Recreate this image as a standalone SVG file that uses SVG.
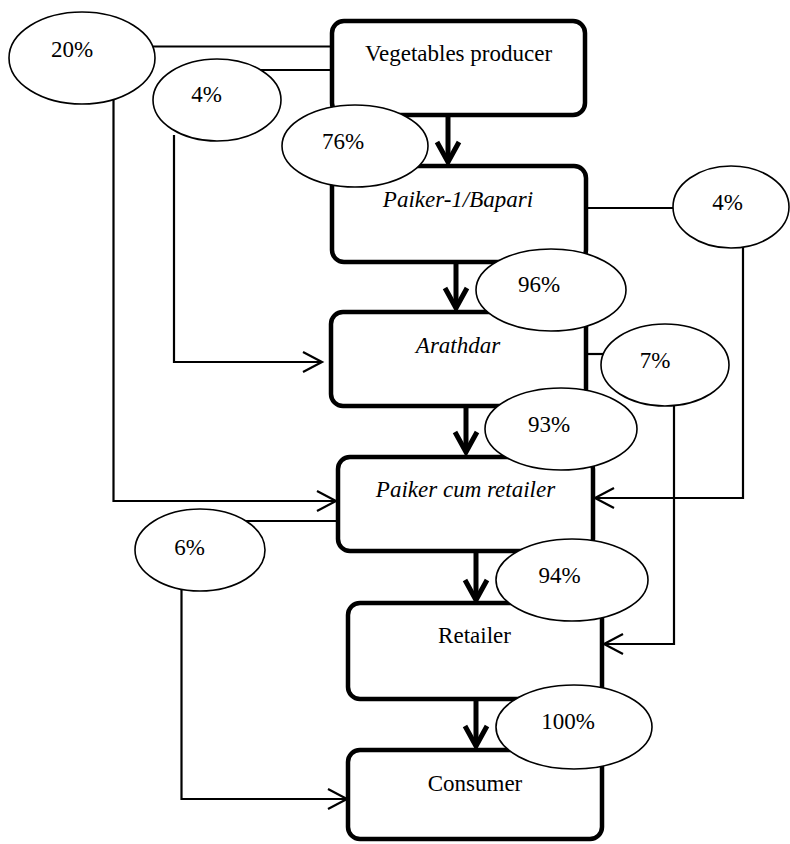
<svg xmlns="http://www.w3.org/2000/svg" width="790" height="844" viewBox="0 0 790 844">
<style>
  .box { fill: #fff; stroke: #000; stroke-width: 4.5; }
  .oval { fill: #fff; stroke: #000; stroke-width: 1.6; }
  .lbl { font-family: "Liberation Serif", "Times New Roman", serif; font-size: 23px; fill: #000; }
  .it { font-style: italic; }
  .thin { fill: none; stroke: #000; stroke-width: 2.2; }
  .thick { fill: none; stroke: #000; stroke-width: 5; }
</style>
<defs>
  <marker id="openThin" markerUnits="userSpaceOnUse" viewBox="-22 -12 24 24" markerWidth="24" markerHeight="24" refX="0" refY="0" orient="auto" overflow="visible">
    <path d="M-19,-10 L0,0 L-19,10" fill="none" stroke="#000" stroke-width="2.2"/>
  </marker>
  <marker id="openThick" markerUnits="userSpaceOnUse" viewBox="-24 -14 28 28" markerWidth="28" markerHeight="28" refX="0" refY="0" orient="auto" overflow="visible">
    <path d="M-20,-11 L0,0 L-20,11" fill="none" stroke="#000" stroke-width="5" stroke-linejoin="miter"/>
  </marker>
</defs>
<rect width="790" height="844" fill="#fff"/>

<g id="connectors">
  <!-- producer side lines -->
  <path class="thin" d="M150,46.5 H332"/>
  <path class="thin" d="M113.5,100 V501 H336" marker-end="url(#openThin)"/>
  <path class="thin" d="M255,70 H332"/>
  <path class="thin" d="M174,135 V362 H322" marker-end="url(#openThin)"/>
  <!-- Paiker-1 to 4% -->
  <path class="thin" d="M586,208 H676"/>
  <path class="thin" d="M743,246 V498 H595" marker-end="url(#openThin)"/>
  <!-- Arathdar to 7% -->
  <path class="thin" d="M586,354 H603"/>
  <path class="thin" d="M674,404 V644 H604" marker-end="url(#openThin)"/>
  <!-- Paiker cum retailer to 6% -->
  <path class="thin" d="M245,521 H338"/>
  <path class="thin" d="M181.5,590 V799 H347" marker-end="url(#openThin)"/>
  <!-- main flow thick arrows -->
  <path class="thick" d="M448,115 V162" marker-end="url(#openThick)"/>
  <path class="thick" d="M456,262 V308" marker-end="url(#openThick)"/>
  <path class="thick" d="M466,406 V452" marker-end="url(#openThick)"/>
  <path class="thick" d="M476,551 V600" marker-end="url(#openThick)"/>
  <path class="thick" d="M476,699 V746" marker-end="url(#openThick)"/>
</g>

<g id="producer">
  <rect class="box" x="332" y="21" width="253" height="94" rx="12"/>
  <text class="lbl" x="458.5" y="61" text-anchor="middle">Vegetables producer</text>
</g>
<g id="paiker1">
  <rect class="box" x="332" y="166" width="254" height="96" rx="12"/>
  <text class="lbl it" x="458" y="207" text-anchor="middle">Paiker-1/Bapari</text>
</g>
<g id="arathdar">
  <rect class="box" x="331" y="312" width="255" height="94" rx="12"/>
  <text class="lbl it" x="458" y="353" text-anchor="middle">Arathdar</text>
</g>
<g id="paiker-cum-retailer">
  <rect class="box" x="338" y="457" width="255" height="94" rx="12"/>
  <text class="lbl it" x="465.5" y="497" text-anchor="middle">Paiker cum retailer</text>
</g>
<g id="retailer">
  <rect class="box" x="348" y="603" width="254" height="96" rx="12"/>
  <text class="lbl" x="474.5" y="643" text-anchor="middle">Retailer</text>
</g>
<g id="consumer">
  <rect class="box" x="348" y="750" width="254" height="89" rx="12"/>
  <text class="lbl" x="475" y="791" text-anchor="middle">Consumer</text>
</g>

<g id="p20">
  <ellipse class="oval" cx="82" cy="58" rx="73" ry="46"/>
  <text class="lbl" x="72" y="57" text-anchor="middle">20%</text>
</g>
<g id="p4a">
  <ellipse class="oval" cx="217" cy="100" rx="64" ry="41"/>
  <text class="lbl" x="206.5" y="102" text-anchor="middle">4%</text>
</g>
<g id="p76">
  <ellipse class="oval" cx="355" cy="146" rx="73" ry="41"/>
  <text class="lbl" x="343" y="149" text-anchor="middle">76%</text>
</g>
<g id="p4b">
  <ellipse class="oval" cx="731" cy="207" rx="58" ry="41"/>
  <text class="lbl" x="727.5" y="210" text-anchor="middle">4%</text>
</g>
<g id="p96">
  <ellipse class="oval" cx="551" cy="290" rx="75" ry="41"/>
  <text class="lbl" x="539" y="292" text-anchor="middle">96%</text>
</g>
<g id="p7">
  <ellipse class="oval" cx="665" cy="365" rx="64" ry="41"/>
  <text class="lbl" x="655" y="368" text-anchor="middle">7%</text>
</g>
<g id="p93">
  <ellipse class="oval" cx="561" cy="429" rx="76" ry="41"/>
  <text class="lbl" x="549" y="432" text-anchor="middle">93%</text>
</g>
<g id="p6">
  <ellipse class="oval" cx="200" cy="550" rx="65" ry="41"/>
  <text class="lbl" x="189.5" y="555" text-anchor="middle">6%</text>
</g>
<g id="p94">
  <ellipse class="oval" cx="572" cy="580" rx="76" ry="41"/>
  <text class="lbl" x="559.5" y="583" text-anchor="middle">94%</text>
</g>
<g id="p100">
  <ellipse class="oval" cx="574" cy="727" rx="78" ry="42"/>
  <text class="lbl" x="568" y="729" text-anchor="middle">100%</text>
</g>
</svg>
